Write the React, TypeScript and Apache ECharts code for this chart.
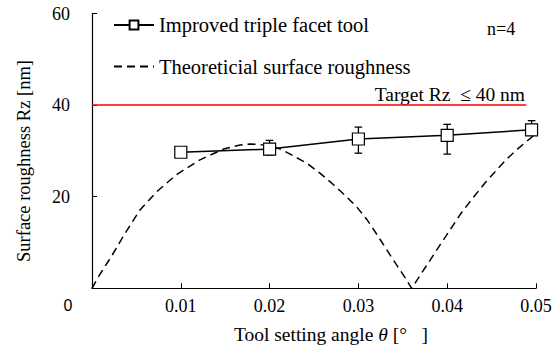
import React, { useEffect, useRef } from "react";
import * as echarts from "echarts";

const xTicks = [0, 0.01, 0.02, 0.03, 0.04, 0.05];
const yTicks = [0, 20, 40, 60];

const improvedX = [0.01, 0.02, 0.03, 0.04, 0.0495];
const improvedY = [29.7, 30.4, 32.6, 33.4, 34.6];
const errLow = [29.4, 29.1, 29.5, 29.3, 33.5];
const errHigh = [30.0, 32.3, 35.2, 35.8, 36.6];

const theoX = [0, 0.0006, 0.0012, 0.0022, 0.0035, 0.0054, 0.0073, 0.0095, 0.0121, 0.0148, 0.0167, 0.0178, 0.0189, 0.0200, 0.0212, 0.0226, 0.0242, 0.0257, 0.0272, 0.0285, 0.0298, 0.0310, 0.0321, 0.0332, 0.0343, 0.0352, 0.036, 0.037, 0.0381, 0.0392, 0.0403, 0.0416, 0.043, 0.0443, 0.0456, 0.0467, 0.0478, 0.0489, 0.0499];
const theoY = [0, 2.1, 4.0, 7.0, 11.3, 17.1, 21.1, 24.8, 28.0, 30.4, 31.3, 31.5, 31.4, 31.0, 30.4, 29.0, 27.3, 25.1, 22.6, 20.3, 17.8, 14.9, 11.7, 8.4, 5.1, 2.5, 0, 3.0, 6.2, 9.5, 12.7, 16.5, 20.0, 23.1, 25.9, 28.2, 30.2, 32.0, 33.6];

const targetX = [0, 0.0489];
const targetY = [40, 40];

const serif = "Times New Roman";

export default function App() {
  const ref = useRef<HTMLDivElement>(null);
  useEffect(() => {
    if (!ref.current) return;
    const chart = echarts.init(ref.current, null, { renderer: "svg" });
    const legendText = { fontFamily: serif, fontSize: 20.5, color: "#000", lineHeight: 22 };
    chart.setOption({
      animation: false,
      backgroundColor: "#fff",
      grid: { left: 92, right: 24, top: 13.5, bottom: 58.7, containLabel: false },
      legend: [
        {
          data: ["Improved triple facet tool"],
          left: 113,
          top: 14,
          itemWidth: 40,
          itemHeight: 11,
          itemGap: 0,
          textStyle: legendText,
          padding: 0,
        },
        {
          data: [{ name: "Theoreticial surface roughness", itemStyle: { opacity: 0 } }],
          left: 113,
          top: 55.5,
          itemWidth: 40,
          itemHeight: 11,
          textStyle: legendText,
          padding: 0,
        },
      ],
      xAxis: {
        type: "value",
        min: xTicks[0],
        max: xTicks[xTicks.length - 1],
        interval: 0.01,
        axisLine: { show: true, onZero: false, lineStyle: { color: "#000", width: 1.2 } },
        axisTick: { show: true, inside: true, length: 5, lineStyle: { color: "#000" } },
        splitLine: { show: false },
        axisLabel: {
          margin: 9,
          fontFamily: serif,
          fontSize: 18,
          color: "#000",
          formatter: (v: number) => (v === 0 ? "" : v.toFixed(2)),
        },
      },
      yAxis: {
        type: "value",
        min: yTicks[0],
        max: yTicks[yTicks.length - 1],
        interval: 20,
        axisLine: { show: true, onZero: false, lineStyle: { color: "#000", width: 1.2 } },
        axisTick: { show: true, inside: true, length: 5, lineStyle: { color: "#000" } },
        splitLine: { show: false },
        axisLabel: {
          margin: 22,
          fontFamily: serif,
          fontSize: 18,
          color: "#000",
          formatter: (v: number) => (v === 0 ? "" : String(v)),
        },
      },
      graphic: [
        {
          type: "text",
          x: 24,
          y: 161,
          rotation: Math.PI / 2,
          style: {
            text: "Surface roughness Rz [nm]",
            fontFamily: serif,
            fontSize: 18.5,
            fill: "#000",
            align: "center",
            verticalAlign: "middle",
          },
        },
        {
          type: "text",
          x: 331,
          y: 334,
          style: {
            text: "{a|Tool setting angle }{i|θ}{a| [°   ]}",
            fontFamily: serif,
            fontSize: 19.5,
            fill: "#000",
            align: "center",
            verticalAlign: "middle",
            rich: {
              a: { fontFamily: serif, fontSize: 19.5, fill: "#000" },
              i: { fontFamily: serif, fontSize: 19.5, fill: "#000", fontStyle: "italic" },
            },
          },
        },
        {
          type: "text",
          x: 68,
          y: 305,
          style: {
            text: "0",
            fontFamily: "Liberation Sans",
            fontSize: 16,
            fill: "#000",
            align: "center",
            verticalAlign: "middle",
          },
        },
        {
          type: "text",
          x: 487,
          y: 29,
          style: {
            text: "n=4",
            fontFamily: serif,
            fontSize: 18,
            fill: "#000",
            align: "left",
            verticalAlign: "middle",
          },
        },
        {
          type: "text",
          x: 525,
          y: 94,
          style: {
            text: "Target Rz  ≤ 40 nm",
            fontFamily: serif,
            fontSize: 19.5,
            fill: "#000",
            align: "right",
            verticalAlign: "middle",
          },
        },
      ],
      series: [
        {
          name: "Target",
          type: "line",
          data: targetX.map((x, i) => [x, targetY[i]]),
          symbol: "none",
          lineStyle: { color: "#ff0000", width: 1.5 },
          z: 1,
        },
        {
          name: "Theoreticial surface roughness",
          type: "line",
          data: theoX.map((x, i) => [x, theoY[i]]),
          symbol: "none",
          lineStyle: { color: "#000", width: 1.5, type: [8, 5] },
          itemStyle: { color: "#000" },
          z: 2,
        },
        {
          name: "errors",
          type: "custom",
          data: improvedX.map((x, i) => [x, errLow[i], errHigh[i]]),
          renderItem: (params: any, api: any) => {
            const x = api.value(0);
            const hi = api.coord([x, api.value(2)]);
            const lo = api.coord([x, api.value(1)]);
            const w = 3.8;
            const st = { stroke: "#000", lineWidth: 1.3 };
            return {
              type: "group",
              children: [
                { type: "line", shape: { x1: hi[0], y1: hi[1], x2: lo[0], y2: lo[1] }, style: st },
                { type: "line", shape: { x1: hi[0] - w, y1: hi[1], x2: hi[0] + w, y2: hi[1] }, style: st },
                { type: "line", shape: { x1: lo[0] - w, y1: lo[1], x2: lo[0] + w, y2: lo[1] }, style: st },
              ],
            };
          },
          z: 3,
        },
        {
          name: "Improved triple facet tool",
          type: "line",
          data: improvedX.map((x, i) => [x, improvedY[i]]),
          symbol: "rect",
          symbolSize: 12,
          lineStyle: { color: "#000", width: 1.5 },
          itemStyle: { color: "#fff", borderColor: "#000", borderWidth: 1.2 },
          z: 4,
        },
      ],
    });
    return () => chart.dispose();
  }, []);
  return <div ref={ref} style={{ width: 560, height: 347, position: "absolute", left: 0, top: 0 }} />;
}
